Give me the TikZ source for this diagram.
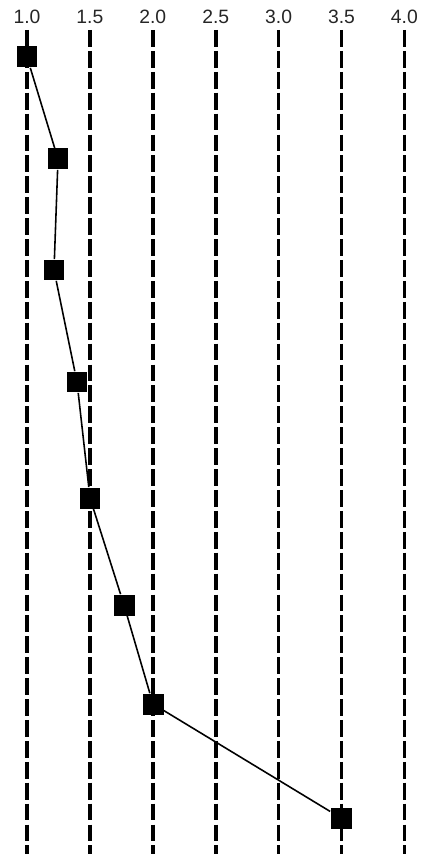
\documentclass[tikz,border=0pt]{standalone}
\usepackage{fontspec}
\setsansfont{Liberation Sans}

\begin{document}
\begin{tikzpicture}[x=0.02cm, y=-0.02cm,
                    point/.style={rectangle, fill=black, inner sep=0pt, minimum size=0.42cm},
                    grid line/.style={line width=2.1pt, dash pattern=on 9.6pt off 2.3pt},
                    tick label/.style={font=\sffamily\fontsize{11}{13}\selectfont, text=black!85}]

  \useasboundingbox (0,0) rectangle (426,854);

  % value axis
  \foreach \v/\n in {1.0/1,1.5/2,2.0/3,2.5/4,3.0/5,3.5/6,4.0/7} {
    \node[tick label] (l\n) at ({27+(\v-1)*125.8},17) {\v};
    \coordinate (t\n) at ({27+(\v-1)*125.8},30);
    \coordinate (b\n) at ({27+(\v-1)*125.8},854);
    \draw[grid line] (t\n) -- (b\n);
  }

  \node[point] (1) at (27,57) {};
  \node[point] (2) at (58,159) {};
  \node[point] (3) at (54,270) {};
  \node[point] (4) at (77,382) {};
  \node[point] (5) at (90,498) {};
  \node[point] (6) at (124,605) {};
  \node[point] (7) at (153,704) {};
  \node[point] (8) at (341,818) {};

  \path[line width=0.9pt]
    (1) edge (2)
    (2) edge (3)
    (3) edge (4)
    (4) edge (5)
    (5) edge (6)
    (6) edge (7)
    (7) edge (8);
\end{tikzpicture}
\end{document}
